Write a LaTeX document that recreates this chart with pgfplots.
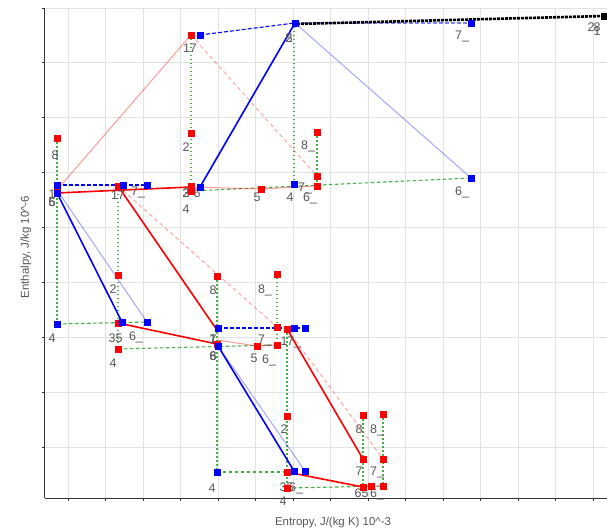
\documentclass[border=0pt]{standalone}
\usepackage{pgfplots}
\pgfplotsset{compat=1.18}
\usepackage{fontspec}
\setmainfont{Liberation Sans}

\definecolor{cred}{RGB}{255,0,0}
\definecolor{cblue}{RGB}{0,0,255}
\definecolor{cgreen}{RGB}{70,175,70}
\definecolor{clab}{RGB}{85,85,85}
\definecolor{cgrid}{RGB}{226,226,226}

\tikzset{
  redthick/.style={draw=cred, line width=1.6bp},
  redlight/.style={draw=cred, opacity=0.4, line width=1bp},
  reddash/.style={draw=cred, opacity=0.35, line width=1bp, dash pattern=on 4bp off 3bp},
  bluethick/.style={draw=cblue, line width=1.6bp},
  bluelight/.style={draw=cblue, opacity=0.35, line width=1bp},
  bluedash/.style={draw=cblue, line width=1.1bp, dash pattern=on 4bp off 2bp},
  greendot/.style={draw=cgreen, line width=1.3bp, dash pattern=on 1.5bp off 2.5bp},
  greendash/.style={draw=cgreen, line width=1.1bp, dash pattern=on 3.5bp off 2.5bp},
}
\newcommand{\lab}[3]{\node[anchor=base, text=clab, inner sep=0pt,
  font=\fontsize{12.5}{13}\selectfont] at (axis cs:#1,#2) {#3};}

\begin{document}
\begin{tikzpicture}
\begin{axis}[
  scale only axis, width=562bp, height=490bp,
  xmin=-0.6133, xmax=14.373, ymin=0.071, ymax=9.0,
  axis x line*=bottom, axis y line*=left,
  axis line style={draw=black!80, line width=1bp},
  xtick={0,...,14}, ytick={1,...,9},
  xticklabel={\relax}, yticklabel={\relax},
  tick align=outside, major tick length=3bp,
  tick style={draw=black!80, line width=0.8bp},
  grid=major, grid style={draw=cgrid, line width=0.8bp},
  clip=false,
  label style={text=clab, font=\fontsize{11.5}{12}\selectfont},
  xlabel={Entropy, J/(kg K) 10\textasciicircum-3},
  xlabel style={at={(axis description cs:0.5125,-0.051)}, anchor=center},
  ylabel={Enthalpy, J/kg 10\textasciicircum-6},
  ylabel style={at={(axis description cs:-0.034,0.512)}, anchor=center, rotate=0},
]
\coordinate (SW) at (rel axis cs:0,0);
\coordinate (NE) at (rel axis cs:1,1);

% guide lines: vertical (dotted) and horizontal (dashed)
\addplot[greendot] coordinates {(-0.293,6.631) (-0.293,3.242)};
\addplot[greendot] coordinates {(1.333,5.757) (1.333,2.786)};
\addplot[greendot] coordinates {(3.28,8.508) (3.28,5.665)};
\addplot[greendot] coordinates {(6.027,8.727) (6.027,5.793)};
\addplot[greendot] coordinates {(6.64,6.740) (6.64,5.757)};
\addplot[greendot] coordinates {(3.973,4.116) (3.973,0.544)};
\addplot[greendot] coordinates {(5.573,4.153) (5.573,2.859)};
\addplot[greendot] coordinates {(5.84,3.150) (5.84,0.253)};
\addplot[greendot] coordinates {(7.867,1.583) (7.867,0.271)};
\addplot[greendot] coordinates {(8.4,1.601) (8.4,0.289)};
\addplot[greendash] coordinates {(-0.293,3.242) (2.107,3.278)};
\addplot[greendash] coordinates {(1.333,2.786) (5.573,2.859)};
\addplot[greendash] coordinates {(3.28,5.665) (10.747,5.902)};
\addplot[greendash] coordinates {(3.973,0.544) (5.84,0.544)};
\addplot[greendash] coordinates {(5.84,0.253) (8.4,0.289)};

% faint process lines
\addplot[redlight] coordinates {(-0.293,5.684) (3.28,8.508)};
\addplot[redlight] coordinates {(3.28,5.738) (5.147,5.702) (6.64,5.757)};
\addplot[redlight] coordinates {(3.973,2.950) (5.04,2.841) (5.573,2.859)};
\addplot[redlight] coordinates {(7.867,0.271) (8.08,0.289) (8.4,0.289)};
\addplot[reddash] coordinates {(3.28,8.508) (6.64,5.939)};
\addplot[reddash] coordinates {(1.333,5.757) (5.573,3.187)};
\addplot[reddash] coordinates {(5.84,3.150) (8.4,0.781)};
\addplot[bluelight] coordinates {(-0.293,5.684) (2.107,3.278)};
\addplot[bluelight] coordinates {(6.053,8.727) (10.747,5.902)};
\addplot[bluelight] coordinates {(4.0,2.841) (6.32,0.563)};
\addplot[bluedash, opacity=0.5] coordinates {(6.053,8.727) (10.747,8.727)};

% main process lines
\addplot[bluedash] coordinates {(-0.293,5.775) (1.467,5.775) (2.107,5.775)};
\addplot[bluedash] coordinates {(3.52,8.508) (6.053,8.727)};
\addplot[bluedash] coordinates {(4.0,3.169) (6.027,3.169) (6.32,3.169)};
\addplot[draw=black, line width=2.6bp, dash pattern=on 3bp off 1bp] coordinates {(6.107,8.709) (14.293,8.854)};
\addplot[bluethick] coordinates {(-0.293,5.629) (1.44,3.278)};
\addplot[bluethick] coordinates {(3.52,5.738) (6.053,8.727)};
\addplot[bluethick] coordinates {(4.0,2.841) (6.027,0.563)};
\addplot[redthick] coordinates {(-0.293,5.629) (3.28,5.738)};
\addplot[redthick] coordinates {(1.333,5.757) (3.973,3.132)};
\addplot[redthick] coordinates {(1.333,3.260) (3.973,2.877)};
\addplot[redthick] coordinates {(5.84,3.150) (7.867,0.781)};
\addplot[redthick] coordinates {(5.84,0.544) (7.867,0.271)};

% state points
\addplot[only marks, mark=square*, mark size=3bp, color=cred] coordinates {
  (-0.293,6.631) (-0.293,5.647) (1.333,5.757) (3.28,8.508) (3.28,6.722)
  (3.28,5.757) (3.28,5.665) (5.147,5.702) (6.64,6.740) (6.64,5.939) (6.64,5.757)
  (1.333,4.135) (1.333,3.260) (1.333,2.786) (3.973,4.116) (3.973,2.877)
  (5.573,4.153) (5.573,3.187) (5.04,2.841) (5.573,2.859) (5.84,3.150)
  (5.84,1.565) (5.84,0.544) (5.84,0.253) (7.867,1.583) (8.4,1.601)
  (7.867,0.781) (8.4,0.781) (7.867,0.271) (8.08,0.289) (8.4,0.289)};
\addplot[only marks, mark=square*, mark size=3bp, color=cblue] coordinates {
  (-0.293,5.775) (-0.293,5.629) (1.467,5.775) (2.107,5.775) (3.52,8.508)
  (6.053,8.727) (10.747,8.727) (10.747,5.902) (3.52,5.738) (6.027,5.793)
  (-0.293,3.242) (1.44,3.278) (2.107,3.278) (4.0,3.169) (4.0,2.841)
  (6.027,3.169) (6.32,3.169) (3.973,0.544) (6.027,0.563) (6.32,0.563)};
\addplot[only marks, mark=square*, mark size=3bp, color=black] coordinates {(14.293,8.854)};

% point numbers
\lab{-0.347}{6.245}{8}
\lab{-0.427}{5.52}{1}
\lab{-0.427}{5.374}{6}
\lab{-0.427}{5.374}{5}
\lab{1.333}{5.502}{17}
\lab{1.867}{5.575}{7\_}
\lab{3.253}{8.18}{17}
\lab{3.147}{6.394}{2}
\lab{3.147}{5.538}{3}
\lab{3.147}{5.538}{2}
\lab{3.44}{5.538}{6}
\lab{3.147}{5.264}{4}
\lab{5.04}{5.483}{5}
\lab{5.92}{5.465}{4}
\lab{6.4}{6.413}{8\_}
\lab{6.32}{5.665}{7\_}
\lab{6.453}{5.465}{6\_}
\lab{5.893}{8.38}{2}
\lab{5.893}{8.38}{5}
\lab{10.507}{8.417}{7\_}
\lab{10.507}{5.575}{6\_}
\lab{13.947}{8.563}{2}
\lab{14.107}{8.563}{8}
\lab{14.107}{8.50}{1}
\lab{-0.427}{2.913}{4}
\lab{1.2}{3.806}{2}
\lab{1.173}{2.913}{3}
\lab{1.36}{2.913}{5}
\lab{1.813}{2.95}{6\_}
\lab{1.2}{2.458}{4}
\lab{3.867}{3.788}{8}
\lab{3.867}{2.895}{7}
\lab{3.867}{2.895}{1}
\lab{3.867}{2.585}{8}
\lab{3.867}{2.585}{6}
\lab{5.253}{3.806}{8\_}
\lab{5.253}{2.895}{7\_}
\lab{4.96}{2.549}{5}
\lab{5.36}{2.531}{6\_}
\lab{5.76}{2.841}{1}
\lab{6.027}{2.841}{7\_}
\lab{5.76}{1.255}{2}
\lab{3.84}{0.18}{4}
\lab{5.733}{0.198}{3}
\lab{5.92}{0.198}{5}
\lab{6.08}{0.198}{6\_}
\lab{5.733}{-0.057}{4}
\lab{7.76}{1.255}{8}
\lab{8.24}{1.255}{8\_}
\lab{7.76}{0.472}{7}
\lab{8.24}{0.472}{7\_}
\lab{7.733}{0.089}{6}
\lab{7.92}{0.089}{5}
\lab{8.24}{0.089}{6\_}
\end{axis}
\pgfresetboundingbox
\path[use as bounding box] ([xshift=-45bp,yshift=-34bp]SW) rectangle ([yshift=8bp]NE);
\end{tikzpicture}
\end{document}
